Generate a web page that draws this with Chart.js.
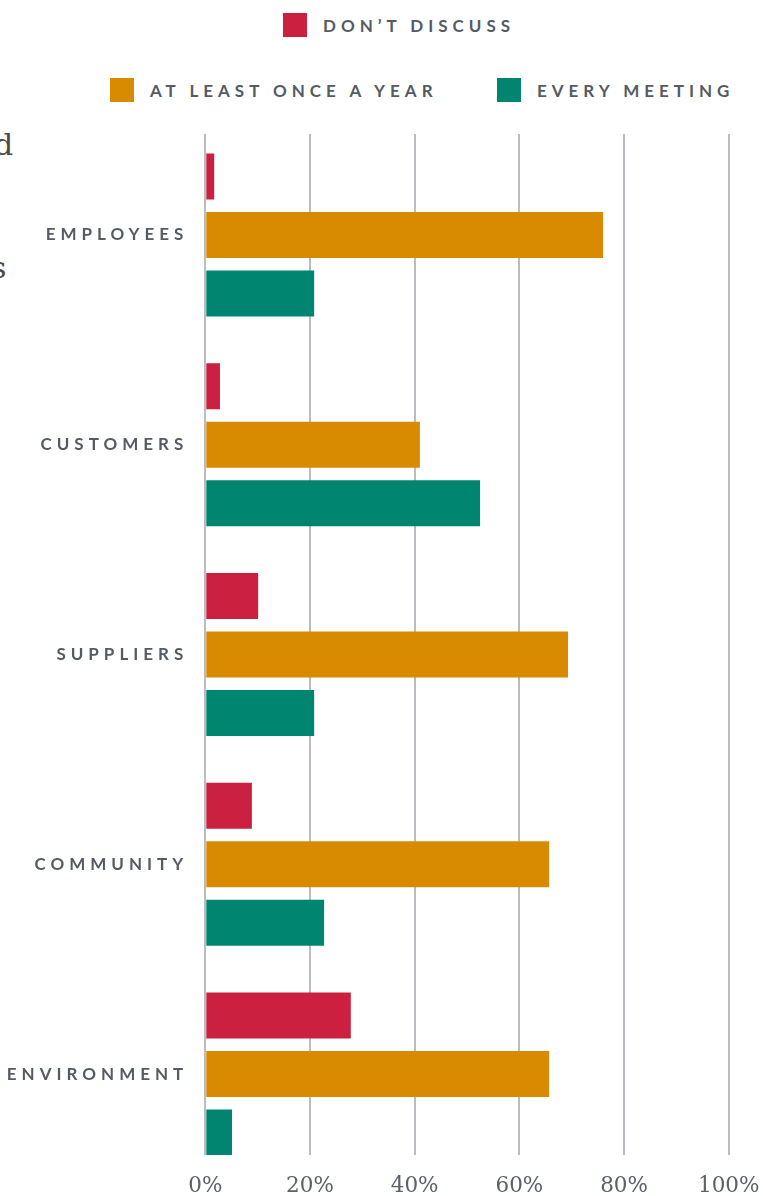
<!DOCTYPE html>
<html>
<head>
<meta charset="utf-8">
<script src="https://cdn.jsdelivr.net/npm/chart.js@4"></script>
<style>
  body { margin: 0; background: #fff; width: 763px; height: 1196px; overflow: hidden; position: relative; }
  #chart { position: absolute; left: 0; top: 0; }
  .frag { position: absolute; font-family: "DejaVu Serif", serif; font-size: 30px; color: #4a4a4a; line-height: 1; }
  .leg { position: absolute; display: flex; align-items: center; font-family: Lato, sans-serif; font-weight: 700;
         font-size: 17px; letter-spacing: 5px; color: #555b62; white-space: nowrap; }
  .leg i { display: inline-block; width: 24px; height: 24px; margin-right: 16px; }
</style>
</head>
<body>
<div class="frag" style="left:-6px; top:130px;">d</div>
<div class="frag" style="left:-9px; top:253px;">s</div>

<div class="leg" style="left:283px; top:13px;"><i style="background:#cc2041"></i>DON’T DISCUSS</div>
<div class="leg" style="left:110px; top:78px;"><i style="background:#d88a00"></i>AT LEAST ONCE A YEAR</div>
<div class="leg" style="left:497px; top:78px;"><i style="background:#008571"></i>EVERY MEETING</div>

<canvas id="chart" width="763" height="1196"></canvas>

<script>
var categories = ['EMPLOYEES', 'CUSTOMERS', 'SUPPLIERS', 'COMMUNITY', 'ENVIRONMENT'];
var seriesNames = ['Don’t discuss', 'At least once a year', 'Every meeting'];
var dontDiscuss = [1.7, 2.8, 10.1, 8.9, 27.8];
var onceAYear = [76.0, 41.0, 69.3, 65.7, 65.7];
var everyMeeting = [20.8, 52.5, 20.8, 22.7, 5.1];
var xTicks = [0, 20, 40, 60, 80, 100];
var colors = ['#cc2041', '#d88a00', '#008571'];

function toPoints(values) {
  return values.map(function (v, i) { return { x: v, y: i }; });
}

// spaced-out caps for the category labels
var spacedLabels = {
  id: 'spacedLabels',
  beforeDraw: function (chart) {
    var y = chart.scales.y;
    if (y._spaced) return;
    var orig = y.drawLabels;
    y.drawLabels = function (area) {
      var ctx = this.ctx;
      ctx.save();
      ctx.letterSpacing = '5px';
      orig.call(this, area);
      ctx.restore();
    };
    y._spaced = true;
  }
};

var ctx = document.getElementById('chart').getContext('2d');
var chart = new Chart(ctx, {
  type: 'bar',
  data: {
    datasets: [
      { label: seriesNames[0], data: toPoints(dontDiscuss), backgroundColor: colors[0] },
      { label: seriesNames[1], data: toPoints(onceAYear), backgroundColor: colors[1] },
      { label: seriesNames[2], data: toPoints(everyMeeting), backgroundColor: colors[2] }
    ]
  },
  options: {
    indexAxis: 'y',
    responsive: false,
    animation: false,
    categoryPercentage: 0.837,
    barPercentage: 0.786,
    layout: { padding: { top: 134, right: 34.3, left: 0, bottom: 0 } },
    plugins: { legend: { display: false }, tooltip: { enabled: false } },
    scales: {
      x: {
        type: 'linear',
        min: 0,
        max: 100,
        afterBuildTicks: function (s) { s.ticks = xTicks.map(function (v) { return { value: v }; }); },
        ticks: {
          callback: function (v) { return v + '%'; },
          font: { family: 'DejaVu Serif', size: 21.5, lineHeight: 2.75 },
          color: '#5c6168',
          padding: 2,
          maxRotation: 0
        },
        grid: { color: '#b9bcc0', lineWidth: 2, drawTicks: false },
        border: { display: false },
        afterFit: function (s) { s.height = 41; }
      },
      y: {
        type: 'linear',
        reverse: true,
        offset: false,
        min: -0.4815,
        max: 4.386,
        afterBuildTicks: function (s) { s.ticks = categories.map(function (c, i) { return { value: i }; }); },
        ticks: {
          callback: function (v) { return categories[v]; },
          font: { family: 'Lato', size: 17, weight: 'bold' },
          color: '#555b62',
          padding: 17,
          autoSkip: false
        },
        grid: { display: false, drawTicks: false },
        border: { display: false },
        afterFit: function (s) { s.width = 205.3; }
      }
    }
  },
  plugins: [spacedLabels]
});
</script>
</body>
</html>
